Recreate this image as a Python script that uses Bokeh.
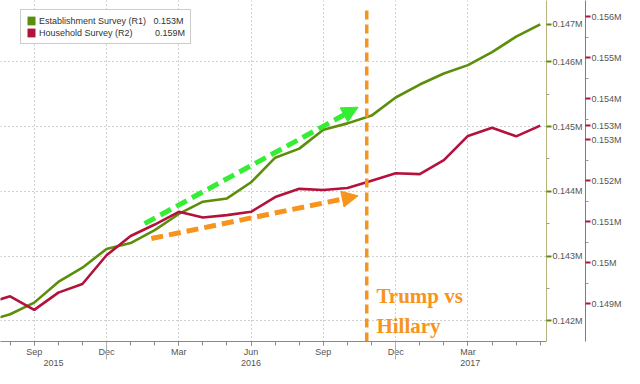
from bokeh.plotting import figure
from bokeh.models import (Range1d, LinearAxis, FixedTicker, Legend, LegendItem,
                          Label, Arrow, NormalHead)
from bokeh.embed import file_html
from bokeh.resources import INLINE

# ---------------- data ----------------
months = ["Jul 2015", "Aug 2015", "Sep 2015", "Oct 2015", "Nov 2015", "Dec 2015",
          "Jan 2016", "Feb 2016", "Mar 2016", "Apr 2016", "May 2016", "Jun 2016",
          "Jul 2016", "Aug 2016", "Sep 2016", "Oct 2016", "Nov 2016", "Dec 2016",
          "Jan 2017", "Feb 2017", "Mar 2017", "Apr 2017", "May 2017", "Jun 2017"]

establishment = [0.14199, 0.14210, 0.14228, 0.14260, 0.14282, 0.14311,
                 0.14320, 0.14340, 0.14365, 0.14384, 0.14389, 0.14414,
                 0.14452, 0.14466, 0.14495, 0.14505, 0.14517, 0.14545,
                 0.14565, 0.14582, 0.14595, 0.14615, 0.14639, 0.14658]

household = [0.14900, 0.14918, 0.14885, 0.14927, 0.14948, 0.15018,
             0.15065, 0.15093, 0.15124, 0.15110, 0.15116, 0.15124,
             0.15160, 0.15180, 0.15177, 0.15182, 0.15200, 0.15218,
             0.15216, 0.15250, 0.15309, 0.15329, 0.15308, 0.15334]

r1_ticks = [0.142, 0.143, 0.144, 0.145, 0.146]
r1_labels = ["0.142M", "0.143M", "0.144M", "0.145M", "0.146M"]
r2_ticks = [0.149, 0.150, 0.151, 0.152, 0.153, 0.154, 0.155, 0.156]
r2_labels = ["0.149M", "0.15M", "0.151M", "0.152M", "0.153M", "0.154M", "0.155M", "0.156M"]

years = ["2015", "2016", "2017"]
year_label_pos = [2.8, 11.0, 20.1]
year_separators = [5, 17]

legend_names = ["Establishment Survey (R1)", "Household Survey (R2)"]
legend_values = ["0.153M", "0.159M"]

# annotation positions (month index, R1 value)
green_arrow_x = [6.58, 15.44]
green_arrow_y = [0.14350, 0.14530]
orange_arrow_x = [6.86, 15.44]
orange_arrow_y = [0.14327, 0.14393]
election_x = 15.8
election_top = 0.14682
note_x = 16.2
note_y = 0.14256
note_text = "Trump vs\nHillary"

# ---------------- styling ----------------
GREEN = "#5b8f0b"
RED = "#b3123c"
ORANGE = "#f7941d"
BRIGHT = "#33ee33"
FONT = "Liberation Sans"

x = list(range(len(months)))
x_start, x_end = 0.6, 23.26
r1_range = (0.141679, 0.146949)
r2_range = (0.148078, 0.156392)

p = figure(width=624, height=368, output_backend="svg", toolbar_location=None,
           x_range=Range1d(x_start, x_end), y_range=Range1d(*r1_range),
           y_axis_location="right", min_border_left=0, min_border_top=0,
           min_border_right=0, min_border_bottom=0)
p.outline_line_color = None
p.background_fill_color = "white"
p.border_fill_color = "white"
p.extra_y_ranges = {"r2": Range1d(*r2_range)}

# x axis (months)
quarter_idx = [i for i, m in enumerate(months) if m[:3] in ("Mar", "Jun", "Sep", "Dec")]
quarter_idx = [i for i in quarter_idx if x_start <= i <= x_end - 1]
xa = p.xaxis[0]
xa.ticker = FixedTicker(ticks=quarter_idx, minor_ticks=[i for i in x if i >= 1])
xa.major_label_overrides = {i: months[i][:3] for i in quarter_idx}
xa.axis_line_color = "#8a8a8a"
xa.major_tick_line_color = "#8a8a8a"
xa.minor_tick_line_color = "#8a8a8a"
xa.major_tick_in = 0
xa.major_tick_out = 4
xa.minor_tick_in = 0
xa.minor_tick_out = 4
xa.major_label_standoff = 1
xa.major_label_text_font = FONT
xa.major_label_text_font_size = "9px"
xa.major_label_text_color = "#555555"

# year axis
ya_year = LinearAxis(ticker=FixedTicker(ticks=year_label_pos, minor_ticks=year_separators))
ya_year.major_label_overrides = {pos: yr for pos, yr in zip(year_label_pos, years)}
ya_year.axis_line_color = None
ya_year.major_tick_line_color = None
ya_year.major_tick_in = 0
ya_year.major_tick_out = 0
ya_year.minor_tick_line_color = "#b0b0b0"
ya_year.minor_tick_in = 18
ya_year.minor_tick_out = 0
ya_year.major_label_standoff = 0
ya_year.major_label_text_font = FONT
ya_year.major_label_text_font_size = "9px"
ya_year.major_label_text_color = "#555555"
p.add_layout(ya_year, "below")

# R1 axis (ticks + last-value marker)
r1_last = establishment[-1]
r1 = p.yaxis[0]
r1.ticker = FixedTicker(ticks=r1_ticks + [r1_last],
                        minor_ticks=[t + 0.0005 for t in r1_ticks[:-1]] + [r1_ticks[0] - 0.0005])
r1.major_label_overrides = {**dict(zip(r1_ticks, r1_labels)), r1_last: f"{r1_last:.3f}M"}
r1.axis_line_color = "#b4b47c"
r1.major_tick_line_color = GREEN
r1.major_tick_line_width = 2
r1.major_tick_in = 0
r1.major_tick_out = 5
r1.minor_tick_line_color = "#999999"
r1.minor_tick_in = 0
r1.minor_tick_out = 3
r1.major_label_standoff = 1
r1.major_label_text_font = FONT
r1.major_label_text_font_size = "9px"
r1.major_label_text_color = "#555555"

# R2 axis (ticks + last-value marker)
r2_last = household[-1]
r2 = LinearAxis(y_range_name="r2",
                ticker=FixedTicker(ticks=r2_ticks + [r2_last],
                                   minor_ticks=[t + 0.0005 for t in r2_ticks]))
r2.major_label_overrides = {**dict(zip(r2_ticks, r2_labels)), r2_last: f"{r2_last:.3f}M"}
r2.axis_line_color = "#b06080"
r2.major_tick_line_color = RED
r2.major_tick_line_width = 2
r2.major_tick_in = 0
r2.major_tick_out = 5
r2.minor_tick_line_color = "#999999"
r2.minor_tick_in = 0
r2.minor_tick_out = 3
r2.major_label_standoff = 1
r2.major_label_text_font = FONT
r2.major_label_text_font_size = "9px"
r2.major_label_text_color = "#555555"
p.add_layout(r2, "right")

# grids (only at the regular ticks)
p.xgrid[0].ticker = FixedTicker(ticks=quarter_idx)
p.ygrid[0].ticker = FixedTicker(ticks=r1_ticks)
for g in (p.xgrid[0], p.ygrid[0]):
    g.grid_line_color = "#a0a0a0"
    g.grid_line_dash = "1 3"
    g.grid_line_width = 1

# series
p.line(x, establishment, line_color=GREEN, line_width=2.6)
p.line(x, household, line_color=RED, line_width=2.6, y_range_name="r2")

# annotations
p.segment(x0=[election_x], y0=[r1_range[0]], x1=[election_x], y1=[election_top],
          line_color=ORANGE, line_width=3.5, line_dash="9 5")
p.add_layout(Arrow(end=NormalHead(size=16, fill_color=BRIGHT, line_color=BRIGHT),
                   x_start=green_arrow_x[0], y_start=green_arrow_y[0],
                   x_end=green_arrow_x[1], y_end=green_arrow_y[1],
                   line_color=BRIGHT, line_width=5, line_dash="12 6"))
p.add_layout(Arrow(end=NormalHead(size=16, fill_color=ORANGE, line_color=ORANGE),
                   x_start=orange_arrow_x[0], y_start=orange_arrow_y[0],
                   x_end=orange_arrow_x[1], y_end=orange_arrow_y[1],
                   line_color=ORANGE, line_width=5, line_dash="12 6"))
p.add_layout(Label(x=note_x, y=note_y, text=note_text, text_font="Liberation Serif",
                   text_font_size="21px", text_font_style="bold", text_color=ORANGE,
                   text_baseline="top", text_align="left", text_line_height=1.25))

# legend swatches: zero-area quads on the last data point (invisible in the plot)
sq_g = p.quad(left=x[-1:], right=x[-1:], top=establishment[-1:], bottom=establishment[-1:],
              fill_color=GREEN, line_color=None)
sq_r = p.quad(left=x[-1:], right=x[-1:], top=establishment[-1:], bottom=establishment[-1:],
              fill_color=RED, line_color=None)
pad = ["\u00a0" * 3, "\u00a0" * 9]
items = [LegendItem(label=legend_names[i] + pad[i] + legend_values[i], renderers=[r])
         for i, r in enumerate([sq_g, sq_r])]
legend = Legend(items=items, location=(20, 297), margin=0,
                label_text_font=FONT, label_text_font_size="9px", label_text_color="#333333",
                glyph_width=10, glyph_height=11, label_height=10, label_standoff=3,
                spacing=1, padding=5, border_line_color="#999999",
                background_fill_color="white", background_fill_alpha=1.0)
p.add_layout(legend)

open("out.html", "w").write(file_html(p, INLINE))
